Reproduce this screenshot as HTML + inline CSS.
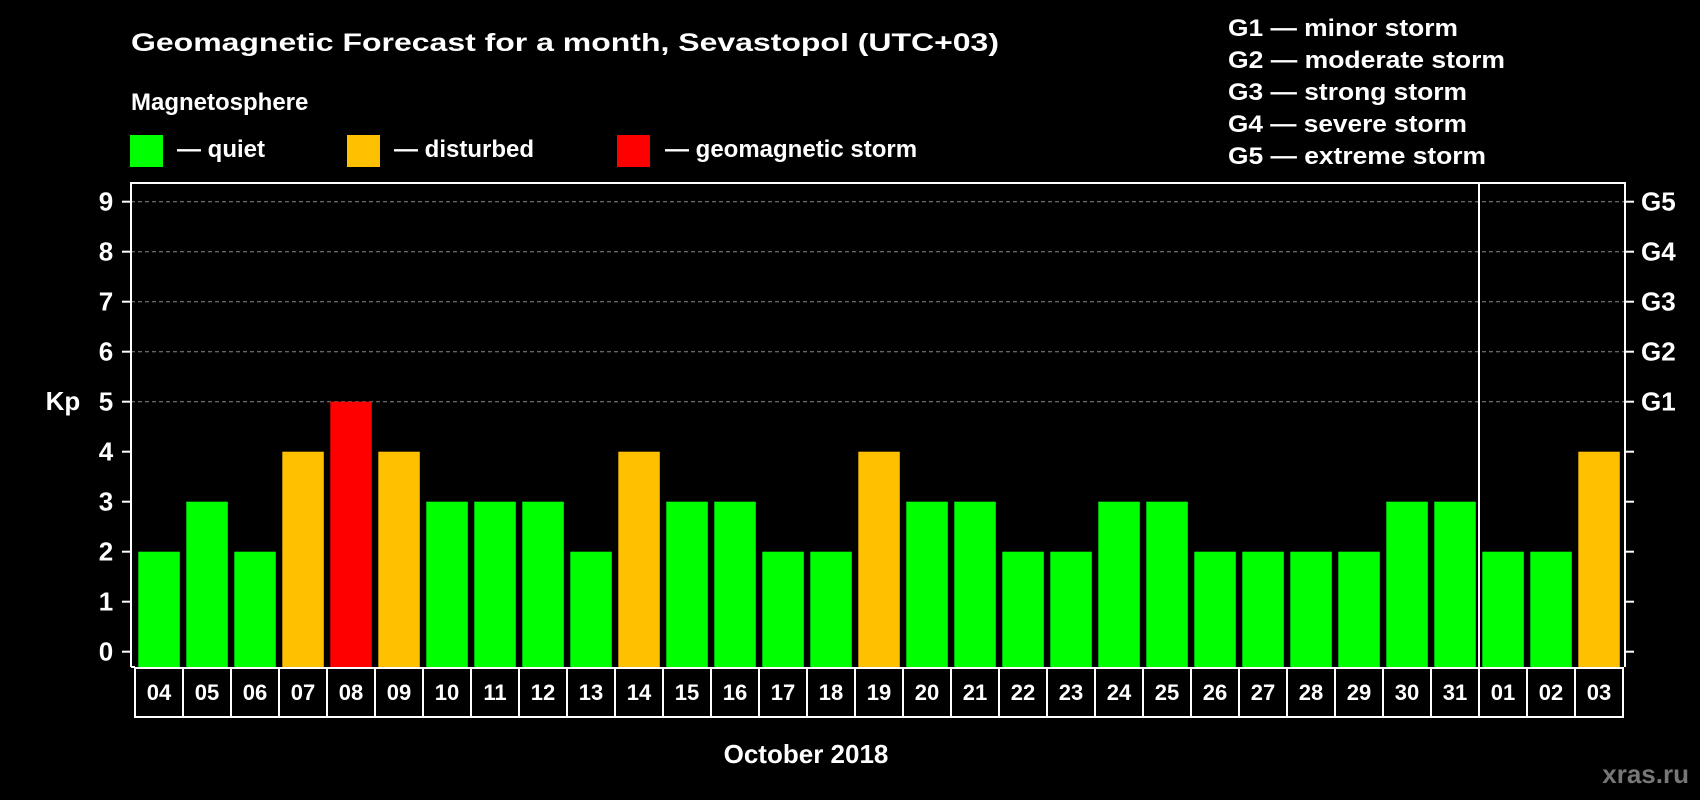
<!DOCTYPE html>
<html><head><meta charset="utf-8"><style>
html,body{margin:0;padding:0;background:#000;}
svg{display:block;font-family:"Liberation Sans",Arial,sans-serif;font-weight:bold;}
</style></head><body>
<svg id="chart" width="1700" height="800" viewBox="0 0 1700 800" xmlns="http://www.w3.org/2000/svg">
<rect width="1700" height="800" fill="#000"/>
<text x="131" y="51" font-size="25" fill="#fff" textLength="868" lengthAdjust="spacingAndGlyphs">Geomagnetic Forecast for a month, Sevastopol (UTC+03)</text>
<text x="131" y="110" font-size="24" fill="#fff">Magnetosphere</text>
<g><rect x="130" y="135" width="33" height="32" fill="#00ff00"/><text x="177" y="157" font-size="24" fill="#fff">— quiet</text></g>
<g><rect x="347" y="135" width="33" height="32" fill="#ffc000"/><text x="394" y="157" font-size="24" fill="#fff">— disturbed</text></g>
<g><rect x="617" y="135" width="33" height="32" fill="#ff0000"/><text x="665" y="157" font-size="24" fill="#fff">— geomagnetic storm</text></g>
<g font-size="24" fill="#fff">
<text x="1228" y="36" textLength="230" lengthAdjust="spacingAndGlyphs">G1 — minor storm</text>
<text x="1228" y="68" textLength="277" lengthAdjust="spacingAndGlyphs">G2 — moderate storm</text>
<text x="1228" y="100" textLength="239" lengthAdjust="spacingAndGlyphs">G3 — strong storm</text>
<text x="1228" y="132" textLength="239" lengthAdjust="spacingAndGlyphs">G4 — severe storm</text>
<text x="1228" y="164" textLength="258" lengthAdjust="spacingAndGlyphs">G5 — extreme storm</text>
</g>
<text x="63" y="410" font-size="26" fill="#fff" text-anchor="middle">Kp</text>
<text x="806" y="763" font-size="26" fill="#fff" text-anchor="middle">October 2018</text>
<text x="1689" y="783" font-size="26" fill="#777" text-anchor="end">xras.ru</text>
<g id="plot"></g>
</svg>
<script>
const days = ["04","05","06","07","08","09","10","11","12","13","14","15","16","17","18","19","20","21","22","23","24","25","26","27","28","29","30","31","01","02","03"];
const kp = [2,3,2,4,5,4,3,3,3,2,4,3,3,2,2,4,3,3,2,2,3,3,2,2,2,2,3,3,2,2,4];
const yTicks = [0,1,2,3,4,5,6,7,8,9];
const gLabels = ["","","","","","G1","G2","G3","G4","G5"];
const monthBreak = 28;

const NS = "http://www.w3.org/2000/svg";
const plot = document.getElementById('plot');
const L = 131, R = 1625, T = 183, B = 667, cellX0 = 135, pitch = 48, labB = 717;
function y(v){ return 651.7 - 50*v; }
function x(i){ return cellX0 + pitch*i; }
function mk(tag, attrs, parent){ const e = document.createElementNS(NS, tag); for (const k in attrs) e.setAttribute(k, attrs[k]); (parent||plot).appendChild(e); return e; }

yTicks.forEach((t,i)=>{
  if (t>=5){ const g = mk('line',{x1:L,x2:R,y1:y(t),y2:y(t),stroke:'#888','stroke-width':1,'stroke-dasharray':'4,3'});
    
     }
  const tl = mk('line',{x1:L-9,x2:L,y1:y(t),y2:y(t),stroke:'#fff','stroke-width':2});
  
  
  const tr = mk('line',{x1:R,x2:R+9,y1:y(t),y2:y(t),stroke:'#fff','stroke-width':2});
  
  
  const lb = mk('text',{x:106,y:y(t)+9,'font-size':26,fill:'#fff','text-anchor':'middle'});
  lb.textContent = t;
  
  
  if (gLabels[i]){ const gl = mk('text',{x:1641,y:y(t)+9,'font-size':26,fill:'#fff'});
    gl.textContent = gLabels[i];
    
     }
});

kp.forEach((v,i)=>{
  const col = v>=5 ? '#ff0000' : (v>=4 ? '#ffc000' : '#00ff00');
  const b = mk('rect',{x:x(i)+3.3,y:y(v),width:41.5,height:B-y(v),fill:col});
  
  
  const c = mk('rect',{x:x(i),y:B+1,width:pitch,height:labB-B-1,fill:'none',stroke:'#fff','stroke-width':2});
  
  
  const t = mk('text',{x:x(i)+pitch/2,y:700,'font-size':22,fill:'#fff','text-anchor':'middle'});
  t.textContent = days[i];
  
  
});

const frame = mk('path',{d:`M${L},${B} L${L},${T} L${R},${T} L${R},${B}`,fill:'none',stroke:'#fff','stroke-width':2});


const ax = mk('line',{x1:L,x2:x(0),y1:B,y2:B,stroke:'#fff','stroke-width':2});


const div = mk('line',{x1:x(monthBreak),x2:x(monthBreak),y1:T,y2:labB,stroke:'#fff','stroke-width':2});


</script>
</body></html>
